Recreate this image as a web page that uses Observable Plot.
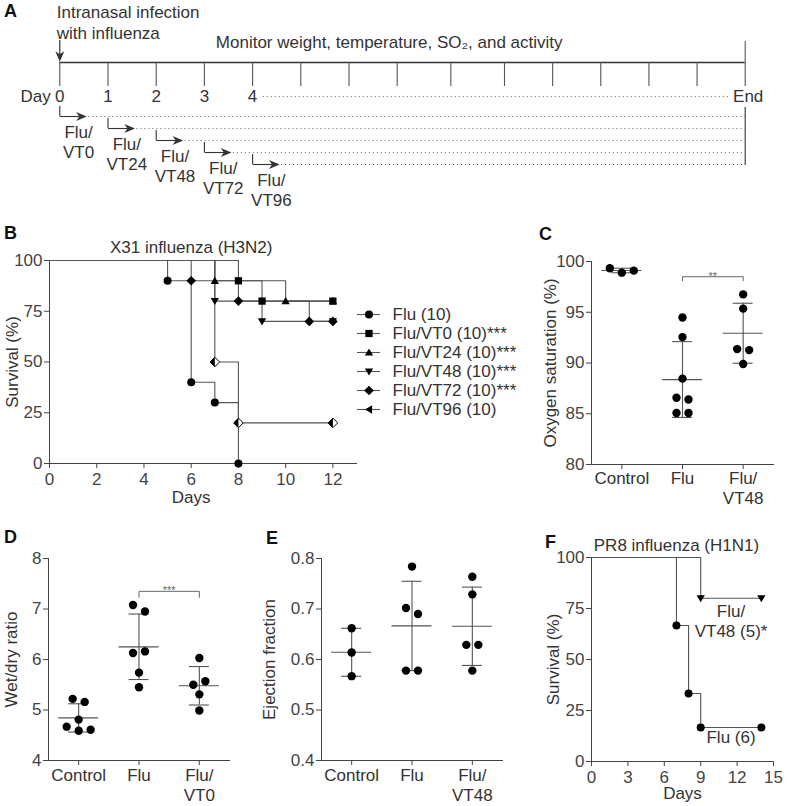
<!DOCTYPE html>
<html><head><meta charset="utf-8">
<script src="https://cdn.jsdelivr.net/npm/d3@7"></script>
<script src="https://cdn.jsdelivr.net/npm/@observablehq/plot@0.6"></script>
<style>
body{margin:0;background:#fff;}
#fig{position:relative;width:787px;height:806px;overflow:hidden;background:#fff;font-family:"Liberation Sans",Arial,Helvetica,sans-serif;color:#333;}
.letter{position:absolute;font-weight:bold;font-size:18px;line-height:18px;color:#111;}
</style></head>
<body><div id="fig"></div>
<script>
// ---------------- DATA ----------------
// Panel A (timeline, days)
const timelineDays = [0,1,2,3,4,5,6,7,8,9,10,11,12,13,14];
const labelledDays = [0,1,2,3,4];
const endDay = 14;
const treatmentDays = [0,1,2,3,4];
const treatmentLabels = ["Flu/\nVT0","Flu/\nVT24","Flu/\nVT48","Flu/\nVT72","Flu/\nVT96"];

// Panel B (X31 survival, %)
const bSeries = ["Flu (10)","Flu/VT0 (10)***","Flu/VT24 (10)***","Flu/VT48 (10)***","Flu/VT72 (10)***","Flu/VT96 (10)"];
const bFluDays = [0,5,6,7,8],        bFluSurv = [100,90,40,30,0];
const bVT0Days = [0,8,9,12],         bVT0Surv = [100,90,80,80];
const bVT24Days = [0,7,10,12],       bVT24Surv = [100,90,80,80];
const bVT48Days = [0,7,9,12],        bVT48Surv = [100,80,70,70];
const bVT72Days = [0,6,8,11,12],     bVT72Surv = [100,90,80,70,70];
const bVT96Days = [0,7,8,12],        bVT96Surv = [100,50,20,20];
const bXTicks = [0,2,4,6,8,10,12];
const survTicks = [0,25,50,75,100];

// Panel C (oxygen saturation, %)
const cGroups = ["Control","Flu","Flu/\nVT48"];
const cControl = [99.34,98.9,99.1];
const cFlu = [94.48,92.55,88.46,86.57,86.4,85.07,85.07];
const cVT48 = [96.76,95.36,91.37,91.27,89.9];
const cTicks = [80,85,90,95,100];
const cBracketLevel = 98.5;

// Panel D (wet/dry ratio)
const dGroups = ["Control","Flu","Flu/\nVT0"];
const dControl = [5.22,5.16,4.81,4.67,4.59,4.61];
const dFlu = [7.08,6.95,6.13,6.16,5.74,5.45];
const dVT0 = [6.03,5.50,5.57,5.31,4.99];
const dTicks = [4,5,6,7,8];
const dBracketLevel = 7.35;

// Panel E (ejection fraction)
const eGroups = ["Control","Flu","Flu/\nVT48"];
const eControl = [0.662,0.614,0.567];
const eFlu = [0.784,0.702,0.690,0.578,0.578];
const eVT48 = [0.764,0.729,0.629,0.629,0.578];
const eTicks = [0.4,0.5,0.6,0.7,0.8];

// Panel F (PR8 survival, %)
const fFluDays = [0,7,8,9,14],   fFluSurv = [100,66.7,33.3,16.7,16.7];
const fVT48Days = [0,9,14],      fVT48Surv = [100,80,80];
const fXTicks = [0,3,6,9,12,15];

// ---------------- HELPERS ----------------
const FONT = '"Liberation Sans", Arial, Helvetica, sans-serif';
const INK = "#333";
const AX = "#444";
const LN = "#555";
const fig = document.getElementById("fig");
const baseStyle = {background:"transparent", fontFamily:FONT, fontSize:"17px", color:AX, overflow:"visible"};
function place(node, left, top){ node.style.position="absolute"; node.style.left=left+"px"; node.style.top=top+"px"; fig.appendChild(node); }
function letter(t, left, top){ const d=document.createElement("div"); d.className="letter"; d.textContent=t; d.style.left=left+"px"; d.style.top=top+"px"; fig.appendChild(d); }

const symTriUp = {draw(c,s){const q=Math.sqrt(s); c.moveTo(0,-q*0.58); c.lineTo(q*0.6,q*0.45); c.lineTo(-q*0.6,q*0.45); c.closePath();}};
const symTriDown = {draw(c,s){const q=Math.sqrt(s); c.moveTo(0,q*0.58); c.lineTo(q*0.6,-q*0.45); c.lineTo(-q*0.6,-q*0.45); c.closePath();}};
const symTriLeft = {draw(c,s){const q=Math.sqrt(s); c.moveTo(-q*0.58,0); c.lineTo(q*0.45,-q*0.6); c.lineTo(q*0.45,q*0.6); c.closePath();}};
const symDiamond = {draw(c,s){const q=Math.sqrt(s)*0.68; c.moveTo(0,-q); c.lineTo(q,0); c.lineTo(0,q); c.lineTo(-q,0); c.closePath();}};
const symHalfLeft = {draw(c,s){const q=Math.sqrt(s)*0.68; c.moveTo(0,-q); c.lineTo(-q,0); c.lineTo(0,q); c.closePath();}};
const symArrowRight = {draw(c,s){const q=Math.sqrt(s); c.moveTo(q*0.6,0); c.lineTo(-q*0.6,-q*0.5); c.lineTo(-q*0.25,0); c.lineTo(-q*0.6,q*0.5); c.closePath();}};
const symArrowDown = {draw(c,s){const q=Math.sqrt(s); c.moveTo(0,q*0.6); c.lineTo(-q*0.5,-q*0.6); c.lineTo(0,-q*0.25); c.lineTo(q*0.5,-q*0.6); c.closePath();}};

function markerMarks(data, kind, x, y){
  const b = {x, y, stroke:"none", fill:"#000"};
  switch(kind){
    case "circle": return [Plot.dot(data, {...b, r:4})];
    case "square": return [Plot.dot(data, {...b, symbol:"square", r:4.1})];
    case "triUp": return [Plot.dot(data, {...b, symbol:symTriUp, r:3.9})];
    case "triDown": return [Plot.dot(data, {...b, symbol:symTriDown, r:3.9})];
    case "triLeft": return [Plot.dot(data, {...b, symbol:symTriLeft, r:3.9})];
    case "diamond": return [Plot.dot(data, {...b, symbol:symDiamond, r:4})];
    case "half": return [Plot.dot(data, {x, y, symbol:symDiamond, r:4, fill:"#fff", stroke:"#000", strokeWidth:1}),
                         Plot.dot(data, {...b, symbol:symHalfLeft, r:4})];
  }
}
function curvePoints(days, surv){ return days.map((d,i)=>({d, s:surv[i]})); }
function survLine(pts){ return Plot.line(pts, {x:"d", y:"s", curve:"step-after", stroke:LN, strokeWidth:1.1}); }
function ylab(text, dx){ return Plot.text([text], {frameAnchor:"left", rotate:-90, dx, textAnchor:"middle", lineAnchor:"middle", text:d=>d, fill:INK}); }

// ---------------- PANEL A ----------------
const rowY = i => 116 + 12*i;
const tData = treatmentDays.map((d,i)=>({day:d, label:treatmentLabels[i], y:rowY(i)}));
const plotA = Plot.plot({
  width:787, height:210, margin:0, style:{...baseStyle, color:INK},
  x:{type:"linear", domain:[0,7,9,14], range:[59.3,396.7,504,744.7], axis:null},
  y:{type:"identity", axis:null},
  marks:[
    Plot.text(["Intranasal infection\nwith influenza"], {x:()=>0, y:()=>21.5, text:d=>d, textAnchor:"start", dx:-3, lineHeight:1.25}),
    Plot.ruleX([0], {x:d=>d, y1:()=>40, y2:()=>56, stroke:INK, strokeWidth:1.2}),
    Plot.dot([0], {x:d=>d, y:()=>56, symbol:symArrowDown, r:5, fill:INK, stroke:"none"}),
    Plot.text(["Monitor weight, temperature, SO\u2082, and activity"], {x:()=>7, y:()=>42, text:d=>d, dx:-8}),
    Plot.ruleY([62], {y:d=>d, x1:()=>0, x2:()=>endDay, stroke:INK, strokeWidth:1.4}),
    Plot.ruleX(timelineDays, {x:d=>d, y1:()=>62, y2:()=>86, stroke:LN, strokeWidth:1.1}),
    Plot.ruleX([endDay], {x:d=>d, y1:()=>41, y2:()=>62, stroke:LN, strokeWidth:1.1}),
    Plot.text(["Day"], {x:()=>0, y:()=>96, text:d=>d, textAnchor:"end", dx:-9}),
    Plot.text(labelledDays, {x:d=>d, y:()=>96, text:d=>String(d)}),
    Plot.ruleY([96], {y:d=>d, x1:()=>4.22, x2:()=>13.7, stroke:"#666", strokeDasharray:"1 3"}),
    Plot.text(["End"], {x:()=>endDay, y:()=>96, text:d=>d, dx:3}),
    Plot.ruleX(tData, {x:"day", y1:d=>d.y-10, y2:"y", stroke:INK, strokeWidth:1.1}),
    Plot.link(tData, {x1:"day", x2:d=>d.day+0.45, y1:"y", y2:"y", stroke:INK, strokeWidth:1.1}),
    Plot.dot(tData, {x:d=>d.day+0.45, y:"y", symbol:symArrowRight, r:5, fill:INK, stroke:"none"}),
    Plot.ruleY(tData, {y:"y", x1:d=>d.day+0.6, x2:()=>endDay, stroke:"#666", strokeDasharray:"1 3"}),
    Plot.ruleX([endDay], {x:d=>d, y1:()=>rowY(0)-9, y2:()=>rowY(4)+1, stroke:INK, strokeWidth:1.1}),
    Plot.text(tData, {x:d=>d.day+0.39, y:d=>d.y+25, text:"label", lineHeight:1.18})
  ]
});
place(plotA, 0, 0);

// ---------------- PANEL B ----------------
const bCurves = [
  {days:bFluDays, surv:bFluSurv, mk:"circle", leg:"circle"},
  {days:bVT0Days, surv:bVT0Surv, mk:"square", leg:"square"},
  {days:bVT24Days, surv:bVT24Surv, mk:"triUp", leg:"triUp"},
  {days:bVT48Days, surv:bVT48Surv, mk:"triDown", leg:"triDown"},
  {days:bVT72Days, surv:bVT72Surv, mk:"diamond", leg:"diamond"},
  {days:bVT96Days, surv:bVT96Surv, mk:"half", leg:"triLeft"}
];
const bLines = bCurves.map(c=>survLine(curvePoints(c.days,c.surv)));
const bMarkers = bCurves.flatMap(c=>markerMarks(curvePoints(c.days,c.surv).slice(1), c.mk, "d", "s"));
const plotB = Plot.plot({
  width:360, height:278, marginLeft:49, marginRight:4, marginTop:30, marginBottom:45,
  style:baseStyle,
  x:{domain:[0,13], ticks:bXTicks, tickSize:5, tickPadding:4, line:true, label:null},
  y:{domain:[0,100], ticks:survTicks, tickSize:5, tickPadding:2, line:true, label:null},
  marks:[
    ...bLines, ...bMarkers,
    Plot.text(["X31 influenza (H3N2)"], {x:()=>6, frameAnchor:"top", lineAnchor:"middle", dy:-13, text:d=>d, fill:INK}),
    Plot.text(["Days"], {x:()=>6, frameAnchor:"bottom", lineAnchor:"middle", dy:34, text:d=>d, fill:INK}),
    ylab("Survival (%)", -37)
  ]
});
place(plotB, 0, 230);

const legendB = Plot.plot({
  width:185, height:140, margin:0, style:{...baseStyle, color:INK},
  x:{domain:[0,1], range:[7,30], axis:null},
  y:{type:"point", domain:bSeries, range:[13,129], axis:null},
  marks:[
    Plot.ruleY(bSeries, {y:d=>d, x1:()=>0, x2:()=>1, stroke:LN, strokeWidth:1.1}),
    ...bCurves.flatMap((c,i)=>markerMarks([bSeries[i]], c.leg, ()=>0.5, d=>d)),
    Plot.text(bSeries, {x:()=>1, y:d=>d, text:d=>d, textAnchor:"start", dx:12, fill:INK})
  ]
});
place(legendB, 350, 290);

// ---------------- SCATTER PANELS (C, D, E) ----------------
function dodge(vals, ppu, thr=6.8, step=12){
  const idx = vals.map((v,i)=>i).sort((a,b)=>vals[b]-vals[a]);
  const off = new Array(vals.length).fill(0);
  let cluster = [idx[0]];
  const flush = () => { const c = cluster.slice().sort((a,b)=>a-b); c.forEach((i,j)=>off[i]=(j-(c.length-1)/2)*step); };
  for(let k=1;k<idx.length;k++){
    if((vals[idx[k-1]]-vals[idx[k]])*ppu < thr) cluster.push(idx[k]); else { flush(); cluster=[idx[k]]; }
  }
  flush();
  return off;
}
function scatterPanel(o){
  const frameH = o.height - o.marginTop - o.marginBottom;
  const frameW = o.width - o.marginLeft - o.marginRight;
  const ppu = frameH/(o.domain[1]-o.domain[0]);
  const unitX = frameW/3;
  const pts = [], stats = [];
  o.values.forEach((vals,i)=>{
    const off = dodge(vals, ppu);
    vals.forEach((v,j)=>pts.push({i, v, x:i+off[j]/unitX}));
    const m = d3.mean(vals), sd = d3.deviation(vals);
    stats.push({i, m, lo:m-sd, hi:m+sd});
  });
  const marks = [
    Plot.ruleX(stats, {x:"i", y1:"lo", y2:"hi", stroke:LN, strokeWidth:1.1}),
    Plot.ruleY(stats, {y:"m", x1:d=>d.i-20/unitX, x2:d=>d.i+20/unitX, stroke:LN, strokeWidth:1.2}),
    Plot.ruleY(stats, {y:"hi", x1:d=>d.i-10/unitX, x2:d=>d.i+10/unitX, stroke:LN, strokeWidth:1.1}),
    Plot.ruleY(stats, {y:"lo", x1:d=>d.i-10/unitX, x2:d=>d.i+10/unitX, stroke:LN, strokeWidth:1.1}),
    Plot.dot(pts, {x:"x", y:"v", r:4.2, fill:"#000", stroke:"none"}),
    Plot.text(o.groups, {x:(d,i)=>i, frameAnchor:"bottom", dy:o.labelDy, lineAnchor:"top", lineHeight:1.2, text:d=>d, fill:INK}),
    ylab(o.ylabel, o.ylabelDx)
  ];
  if(o.bracket){
    const b = o.bracket, drop = b.drop/ppu;
    const bp = [{x:b.from, y:b.level-drop},{x:b.from, y:b.level},{x:b.to, y:b.level},{x:b.to, y:b.level-drop}];
    marks.push(Plot.line(bp, {x:"x", y:"y", stroke:"#666", strokeWidth:1}));
    marks.push(Plot.text([b.label], {x:()=>(b.from+b.to)/2, y:()=>b.level, text:d=>d, lineAnchor:"bottom", dy:3, fontSize:11, fill:"#666"}));
  }
  return Plot.plot({
    width:o.width, height:o.height, marginLeft:o.marginLeft, marginRight:o.marginRight, marginTop:o.marginTop, marginBottom:o.marginBottom,
    style:baseStyle,
    x:{domain:[-0.5,2.5], ticks:[0,1,2], tickFormat:()=>"", tickSize:5, line:true, label:null},
    y:{domain:o.domain, ticks:o.ticks, tickFormat:o.tickFormat, tickSize:5, tickPadding:2, line:true, label:null},
    marks
  });
}

place(scatterPanel({groups:cGroups, values:[cControl,cFlu,cVT48], domain:[80,100], ticks:cTicks, tickFormat:d3.format("d"),
  ylabel:"Oxygen saturation (%)", ylabelDx:-41, labelDy:5,
  bracket:{from:1, to:2, level:cBracketLevel, drop:4, label:"**"},
  width:252, height:265, marginLeft:56, marginRight:14, marginTop:11, marginBottom:51}), 535, 250);

place(scatterPanel({groups:dGroups, values:[dControl,dFlu,dVT0], domain:[4,8], ticks:dTicks, tickFormat:d3.format("d"),
  ylabel:"Wet/dry ratio", ylabelDx:-36.5, labelDy:6,
  bracket:{from:1, to:2, level:dBracketLevel, drop:6, label:"***"},
  width:232, height:261, marginLeft:48, marginRight:3, marginTop:13, marginBottom:46}), 0, 545);

place(scatterPanel({groups:eGroups, values:[eControl,eFlu,eVT48], domain:[0.4,0.8], ticks:eTicks, tickFormat:d3.format(".1f"),
  ylabel:"Ejection fraction", ylabelDx:-51.5, labelDy:6,
  width:245, height:261, marginLeft:61, marginRight:3, marginTop:13, marginBottom:46}), 260, 545);

// ---------------- PANEL F ----------------
const fFluPts = curvePoints(fFluDays, fFluSurv);
const fVTPts = curvePoints(fVT48Days, fVT48Surv);
const plotF = Plot.plot({
  width:257, height:276, marginLeft:61, marginRight:14, marginTop:27, marginBottom:45,
  style:baseStyle,
  x:{domain:[0,15], ticks:fXTicks, tickSize:5, tickPadding:4, line:true, label:null},
  y:{domain:[0,100], ticks:survTicks, tickSize:5, tickPadding:2, line:true, label:null},
  marks:[
    survLine(fFluPts), survLine(fVTPts),
    ...markerMarks(fFluPts.slice(1), "circle", "d", "s"),
    ...markerMarks(fVTPts.slice(1), "triDown", "d", "s"),
    Plot.text(["Flu/\nVT48 (5)*"], {x:()=>(fVT48Days[1]+fVT48Days[2])/2, y:()=>fVT48Surv[2], dy:22, lineHeight:1.22, text:d=>d, fill:INK}),
    Plot.text(["Flu (6)"], {x:()=>(fFluDays[3]+fFluDays[4])/2, y:()=>fFluSurv[4], dy:10, text:d=>d, fill:INK}),
    Plot.text(["PR8 influenza (H1N1)"], {x:()=>7, frameAnchor:"top", lineAnchor:"middle", dy:-12, text:d=>d, fill:INK}),
    Plot.text(["Days"], {x:()=>7.5, frameAnchor:"bottom", lineAnchor:"middle", dy:32, text:d=>d, fill:INK}),
    ylab("Survival (%)", -37.7)
  ]
});
place(plotF, 530, 530);

// ---------------- PANEL LETTERS ----------------
letter("A", 4, 2); letter("B", 4, 224); letter("C", 539, 225);
letter("D", 4, 528); letter("E", 266, 529); letter("F", 545, 533);
</script>
</body></html>
